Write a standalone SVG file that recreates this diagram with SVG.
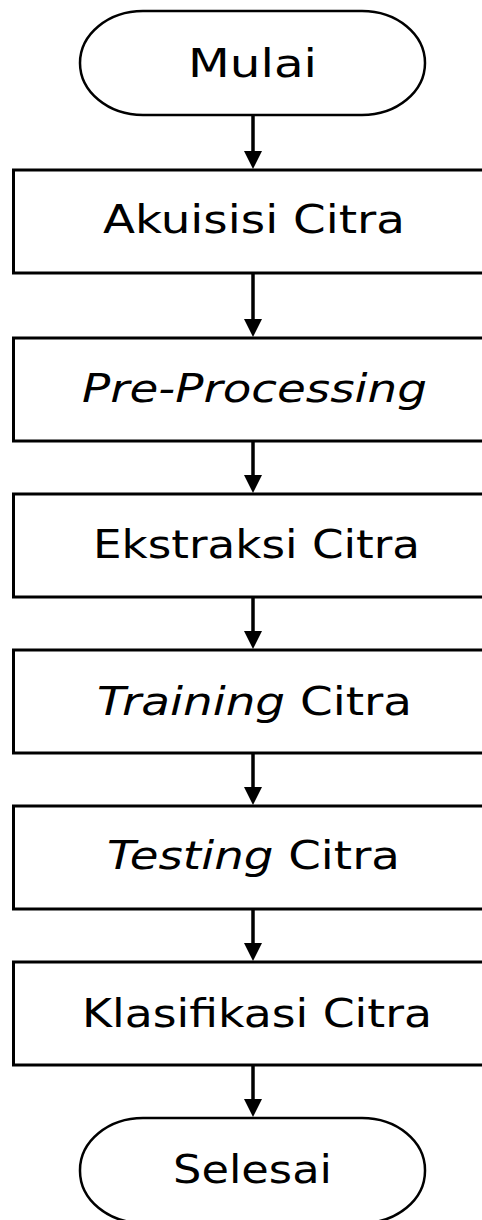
<svg xmlns="http://www.w3.org/2000/svg" width="482" height="1220" viewBox="0 0 482 1220">
<style>
.term{fill:#fff;stroke:#000;stroke-width:2.5}
.box{fill:#fff;stroke:#000;stroke-width:3}
.lbl{font-family:"DejaVu Sans","Liberation Sans",sans-serif;font-size:39px;fill:#000}
.it{font-style:italic}
.con line{stroke:#000;stroke-width:3.5}
.con polygon{fill:#000}
</style>
<rect width="482" height="1220" fill="#fff"/>
<g id="n-mulai">
<rect class="term" x="80" y="11" width="345" height="104" rx="63" ry="52"/>
<text class="lbl" x="188" y="77" textLength="129" lengthAdjust="spacingAndGlyphs">Mulai</text>
</g>
<g id="n-akuisisi">
<rect class="box" x="13.5" y="170" width="500" height="103"/>
<text class="lbl" x="103" y="233" textLength="302" lengthAdjust="spacingAndGlyphs">Akuisisi Citra</text>
</g>
<g id="n-preprocessing">
<rect class="box" x="13.5" y="338" width="500" height="103"/>
<text class="lbl it" x="82" y="402" textLength="345" lengthAdjust="spacingAndGlyphs">Pre-Processing</text>
</g>
<g id="n-ekstraksi">
<rect class="box" x="13.5" y="494" width="500" height="103"/>
<text class="lbl" x="93" y="558" textLength="327" lengthAdjust="spacingAndGlyphs">Ekstraksi Citra</text>
</g>
<g id="n-training">
<rect class="box" x="13.5" y="650" width="500" height="103"/>
<text class="lbl" x="97" y="715" textLength="315" lengthAdjust="spacingAndGlyphs"><tspan class="it">Training</tspan> Citra</text>
</g>
<g id="n-testing">
<rect class="box" x="13.5" y="806" width="500" height="103"/>
<text class="lbl" x="107" y="869" textLength="293" lengthAdjust="spacingAndGlyphs"><tspan class="it">Testing</tspan> Citra</text>
</g>
<g id="n-klasifikasi">
<rect class="box" x="13.5" y="962" width="500" height="103"/>
<text class="lbl" x="82" y="1027" textLength="350" lengthAdjust="spacingAndGlyphs">Klasifikasi Citra</text>
</g>
<g id="n-selesai">
<rect class="term" x="80" y="1118" width="345" height="105" rx="63" ry="52"/>
<text class="lbl" x="173" y="1183" textLength="159" lengthAdjust="spacingAndGlyphs">Selesai</text>
</g>
<g id="connectors" class="con">
<line x1="253" y1="115" x2="253" y2="154"/><polygon points="244,151 262,151 253,169"/>
<line x1="253" y1="273" x2="253" y2="322"/><polygon points="244,319 262,319 253,337"/>
<line x1="253" y1="441" x2="253" y2="478"/><polygon points="244,475 262,475 253,493"/>
<line x1="253" y1="597" x2="253" y2="634"/><polygon points="244,631 262,631 253,649"/>
<line x1="253" y1="753" x2="253" y2="790"/><polygon points="244,787 262,787 253,805"/>
<line x1="253" y1="909" x2="253" y2="946"/><polygon points="244,943 262,943 253,961"/>
<line x1="253" y1="1065" x2="253" y2="1102"/><polygon points="244,1099 262,1099 253,1117"/>
</g>
</svg>
